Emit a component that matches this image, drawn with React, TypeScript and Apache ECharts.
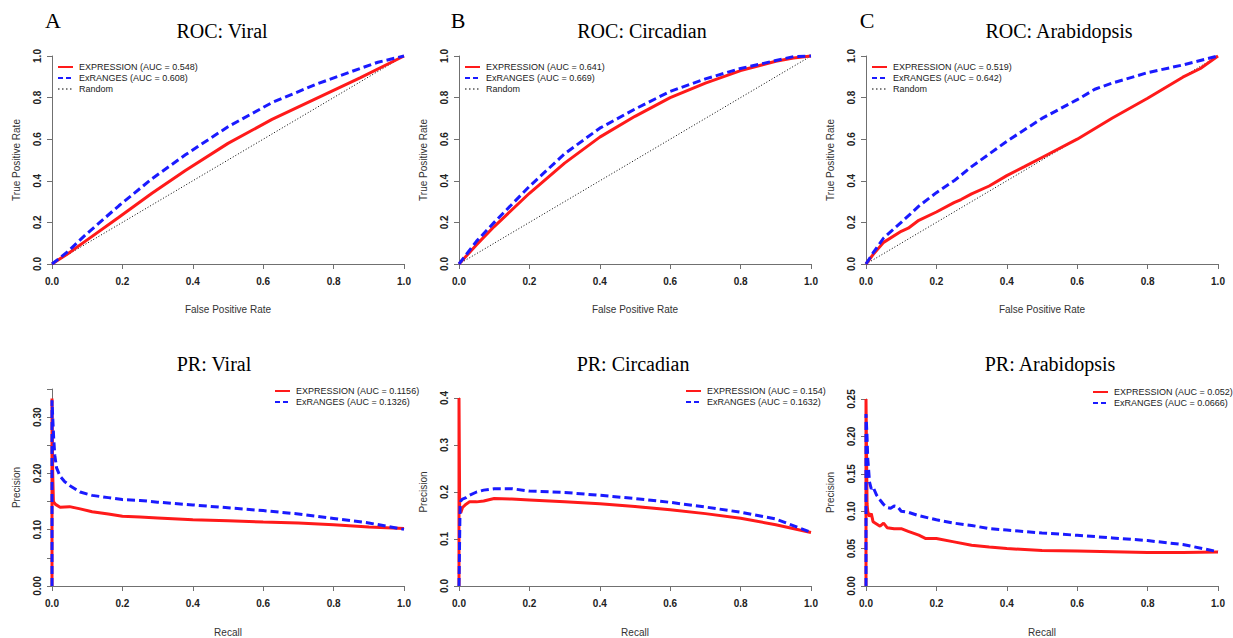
import React, { useEffect, useRef } from "react";
import * as echarts from "echarts";

// ---------- DATA ----------
const rocViralExpr = [[0,0],[0.047,0.052],[0.095,0.11],[0.19,0.225],[0.284,0.34],[0.379,0.45],[0.5,0.58],[0.625,0.695],[0.75,0.795],[0.875,0.895],[1,1]];
const rocViralExr = [[0,0],[0.047,0.0625],[0.095,0.14],[0.19,0.28],[0.284,0.41],[0.379,0.525],[0.5,0.66],[0.625,0.776],[0.75,0.864],[0.875,0.94],[0.926,0.97],[1,1]];
const rocCircExpr = [[0,0],[0.05,0.093],[0.1,0.18],[0.2,0.34],[0.3,0.485],[0.4,0.61],[0.5,0.71],[0.6,0.8],[0.7,0.87],[0.8,0.93],[0.9,0.975],[0.95,0.99],[1,1]];
const rocCircExr = [[0,0],[0.05,0.11],[0.1,0.2],[0.2,0.373],[0.3,0.53],[0.4,0.653],[0.5,0.745],[0.6,0.83],[0.7,0.89],[0.8,0.94],[0.9,0.978],[0.95,0.997],[1,1]];
const rocArabExpr = [[0,0],[0.02,0.045],[0.05,0.104],[0.1,0.157],[0.12,0.172],[0.15,0.21],[0.2,0.25],[0.25,0.295],[0.27,0.31],[0.3,0.337],[0.35,0.375],[0.4,0.425],[0.45,0.468],[0.5,0.512],[0.6,0.6],[0.7,0.702],[0.8,0.797],[0.9,0.898],[0.95,0.94],[1,1]];
const rocArabExr = [[0,0],[0.02,0.053],[0.05,0.125],[0.1,0.2],[0.15,0.278],[0.2,0.343],[0.25,0.4],[0.3,0.468],[0.4,0.59],[0.5,0.7],[0.6,0.79],[0.65,0.84],[0.7,0.87],[0.8,0.92],[0.9,0.957],[1,1]];
const randomLine = [[0,0],[1,1]];

const prViralExpr = [[0,0],[0,0.333],[0.002,0.2],[0.004,0.15],[0.01,0.145],[0.023,0.14],[0.05,0.141],[0.08,0.137],[0.114,0.132],[0.16,0.128],[0.2,0.124],[0.25,0.1225],[0.3,0.121],[0.4,0.1176],[0.5,0.116],[0.6,0.1135],[0.7,0.112],[0.8,0.109],[0.9,0.105],[1,0.102]];
const prViralExr = [[0,0],[0,0.33],[0.002,0.3],[0.005,0.26],[0.008,0.232],[0.013,0.21],[0.023,0.195],[0.035,0.186],[0.051,0.178],[0.08,0.167],[0.114,0.161],[0.16,0.157],[0.2,0.1535],[0.25,0.152],[0.3,0.149],[0.4,0.144],[0.5,0.139],[0.6,0.134],[0.7,0.128],[0.8,0.12],[0.9,0.112],[1,0.1006]];
const prCircExpr = [[0,0],[0,0.4],[0.002,0.16],[0.005,0.156],[0.01,0.167],[0.02,0.174],[0.03,0.179],[0.05,0.179],[0.07,0.181],[0.1,0.186],[0.15,0.185],[0.2,0.183],[0.3,0.179],[0.4,0.175],[0.5,0.169],[0.6,0.162],[0.7,0.154],[0.8,0.144],[0.9,0.1305],[1,0.114]];
const prCircExr = [[0,0],[0.003,0.17],[0.005,0.181],[0.01,0.185],[0.02,0.188],[0.03,0.193],[0.05,0.2],[0.07,0.204],[0.1,0.207],[0.15,0.207],[0.2,0.202],[0.3,0.199],[0.4,0.193],[0.5,0.186],[0.6,0.178],[0.7,0.168],[0.8,0.157],[0.9,0.1425],[1,0.114]];
const prArabExpr = [[0,0],[0,0.25],[0.003,0.11],[0.005,0.0995],[0.01,0.093],[0.015,0.097],[0.02,0.086],[0.03,0.083],[0.04,0.08],[0.05,0.084],[0.06,0.078],[0.08,0.0766],[0.1,0.0766],[0.12,0.073],[0.15,0.068],[0.17,0.0634],[0.2,0.0634],[0.25,0.059],[0.3,0.0546],[0.35,0.052],[0.4,0.05],[0.5,0.0475],[0.6,0.0467],[0.7,0.0458],[0.8,0.0449],[0.9,0.0449],[1,0.0453]];
const prArabExr = [[0,0],[0,0.23],[0.003,0.199],[0.005,0.17],[0.008,0.152],[0.01,0.139],[0.015,0.13],[0.02,0.1325],[0.03,0.1215],[0.04,0.115],[0.05,0.109],[0.06,0.105],[0.07,0.104],[0.08,0.107],[0.09,0.106],[0.1,0.1],[0.12,0.0986],[0.15,0.094],[0.2,0.0885],[0.25,0.084],[0.3,0.081],[0.35,0.0766],[0.4,0.0748],[0.5,0.0709],[0.6,0.0678],[0.7,0.0643],[0.8,0.0607],[0.9,0.0555],[1,0.0458]];

const panelLetters = ["A", "B", "C"];
const titles = ["ROC: Viral", "ROC: Circadian", "ROC: Arabidopsis", "PR: Viral", "PR: Circadian", "PR: Arabidopsis"];
const exprLabels = ["EXPRESSION (AUC = 0.548)", "EXPRESSION (AUC = 0.641)", "EXPRESSION (AUC = 0.519)", "EXPRESSION (AUC = 0.1156)", "EXPRESSION (AUC = 0.154)", "EXPRESSION (AUC = 0.052)"];
const exrLabels = ["ExRANGES (AUC = 0.608)", "ExRANGES (AUC = 0.669)", "ExRANGES (AUC = 0.642)", "ExRANGES (AUC = 0.1326)", "ExRANGES (AUC = 0.1632)", "ExRANGES (AUC = 0.0666)"];
const randomLabel = "Random";
const exprSeries = [rocViralExpr, rocCircExpr, rocArabExpr, prViralExpr, prCircExpr, prArabExpr];
const exrSeries = [rocViralExr, rocCircExr, rocArabExr, prViralExr, prCircExr, prArabExr];
const yMaxes = [1, 1, 1, 0.35, 0.4, 0.25];
const yIntervals = [0.2, 0.2, 0.2, 0.05, 0.1, 0.05];
const yLabelSteps = [0.2, 0.2, 0.2, 0.1, 0.1, 0.05];
const yDecimals = [1, 1, 1, 2, 1, 2];
const xName = ["False Positive Rate", "Recall"];
const yName = ["True Positive Rate", "Precision"];

// ---------- LAYOUT ----------
const layout = [
  { left: 52, top: 56, w: 352, h: 208, tx: 222, ty: 31, lx: 53, ly: 20 },
  { left: 459, top: 56, w: 352, h: 208, tx: 642, ty: 31, lx: 458, ly: 20 },
  { left: 866, top: 56, w: 352, h: 208, tx: 1059, ty: 31, lx: 867, ly: 20 },
  { left: 52, top: 389, w: 352, h: 199, tx: 214, ty: 364 },
  { left: 459, top: 398, w: 352, h: 190, tx: 633, ty: 364 },
  { left: 866, top: 399, w: 352, h: 190, tx: 1050, ty: 364 },
];
const legendPos = [
  { x: 58, y: 67 }, { x: 465, y: 67 }, { x: 872, y: 67 },
  { x: 275, y: 391 }, { x: 686, y: 391 }, { x: 1093, y: 392 },
];

const SERIF = "'Liberation Serif', 'DejaVu Serif', serif";
const SANS = "'Liberation Sans', Arial, sans-serif";
const NARROW = "'Liberation Sans Narrow', 'Liberation Sans', Arial, sans-serif";
const RED = "#ff1a1a";
const BLUE = "#1a1aff";
const AXIS = "#707070";

function buildOption() {
  const grid: any[] = [];
  const xAxis: any[] = [];
  const yAxis: any[] = [];
  const series: any[] = [];
  const graphic: any[] = [];

  layout.forEach((p, i) => {
    const isRoc = i < 3;
    grid.push({ left: p.left, top: p.top, width: p.w, height: p.h, containLabel: false });
    xAxis.push({
      gridIndex: i, type: "value", min: 0, max: 1, interval: 0.2,
      name: xName[isRoc ? 0 : 1], nameLocation: "middle", nameGap: isRoc ? 40 : 41,
      nameTextStyle: { fontSize: 10, fontFamily: NARROW, color: "#333" },
      axisLine: { onZero: false, lineStyle: { color: AXIS, width: 1 } },
      axisTick: { show: true, length: 5, lineStyle: { color: AXIS } },
      axisLabel: { fontSize: 10, fontWeight: "bold", fontFamily: SANS, color: "#222", margin: 12, showMinLabel: true, showMaxLabel: true, formatter: (v: number) => v.toFixed(1) },
      splitLine: { show: false },
    });
    const step = yLabelSteps[i];
    const dec = yDecimals[i];
    yAxis.push({
      gridIndex: i, type: "value", min: 0, max: yMaxes[i], interval: yIntervals[i],
      name: yName[isRoc ? 0 : 1], nameLocation: "middle", nameGap: 31,
      nameTextStyle: { fontSize: 10, fontFamily: NARROW, color: "#333" },
      axisLine: { onZero: false, lineStyle: { color: AXIS, width: 1 } },
      axisTick: { show: true, length: 5, lineStyle: { color: AXIS } },
      axisLabel: {
        fontSize: 10, fontWeight: "bold", fontFamily: SANS, color: "#222", rotate: 90, margin: 10,
        showMinLabel: true, showMaxLabel: true,
        formatter: (v: number) => {
          const k = Math.round(v / step * 1000) / 1000;
          return Math.abs(k - Math.round(k)) < 1e-6 ? v.toFixed(dec) : "";
        },
      },
      splitLine: { show: false },
    });
    if (isRoc) {
      series.push({
        type: "line", xAxisIndex: i, yAxisIndex: i, data: randomLine, showSymbol: false, clip: false,
        lineStyle: { color: "#000", width: 1, type: [1, 2] }, z: 1,
      });
    }
    series.push({
      type: "line", xAxisIndex: i, yAxisIndex: i, data: exprSeries[i], showSymbol: false, clip: false,
      smooth: false,
      lineStyle: { color: RED, width: 3 }, z: 2,
    });
    series.push({
      type: "line", xAxisIndex: i, yAxisIndex: i, data: exrSeries[i], showSymbol: false, clip: false,
      smooth: false,
      lineStyle: { color: BLUE, width: 3, type: [8, 4] }, z: 3,
    });

    graphic.push({
      type: "text", x: p.tx, y: p.ty,
      style: { text: titles[i], fontFamily: SERIF, fontSize: 20, fill: "#000", align: "center", verticalAlign: "middle" },
    });
    if (isRoc) {
      graphic.push({
        type: "text", x: (p as any).lx, y: (p as any).ly,
        style: { text: panelLetters[i], fontFamily: SERIF, fontSize: 22, fill: "#000", align: "center", verticalAlign: "middle" },
      });
    }
    const lp = legendPos[i];
    const rows: any[] = [
      { label: exprLabels[i], color: RED, dash: null, w: 2 },
      { label: exrLabels[i], color: BLUE, dash: [5, 3], w: 2 },
    ];
    if (isRoc) rows.push({ label: randomLabel, color: "#000", dash: [1.5, 2.5], w: 1.2 });
    rows.forEach((r, k) => {
      const y = lp.y + k * 11;
      graphic.push({
        type: "line", shape: { x1: lp.x, y1: y, x2: lp.x + 15, y2: y },
        style: { stroke: r.color, lineWidth: r.w, lineDash: r.dash || undefined },
      });
      graphic.push({
        type: "text", x: lp.x + 21, y,
        style: { text: r.label, fontFamily: NARROW, fontSize: 9, fill: "#222", align: "left", verticalAlign: "middle" },
      });
    });
  });

  return { animation: false, backgroundColor: "#fff", grid, xAxis, yAxis, series, graphic };
}

export default function App() {
  const ref = useRef<HTMLDivElement>(null);
  useEffect(() => {
    if (!ref.current) return;
    const chart = echarts.init(ref.current, null, { renderer: "svg" });
    chart.setOption(buildOption() as any);
    return () => chart.dispose();
  }, []);
  return <div ref={ref} style={{ position: "fixed", left: 0, top: 0, width: 1233, height: 638, background: "#fff" }} />;
}
